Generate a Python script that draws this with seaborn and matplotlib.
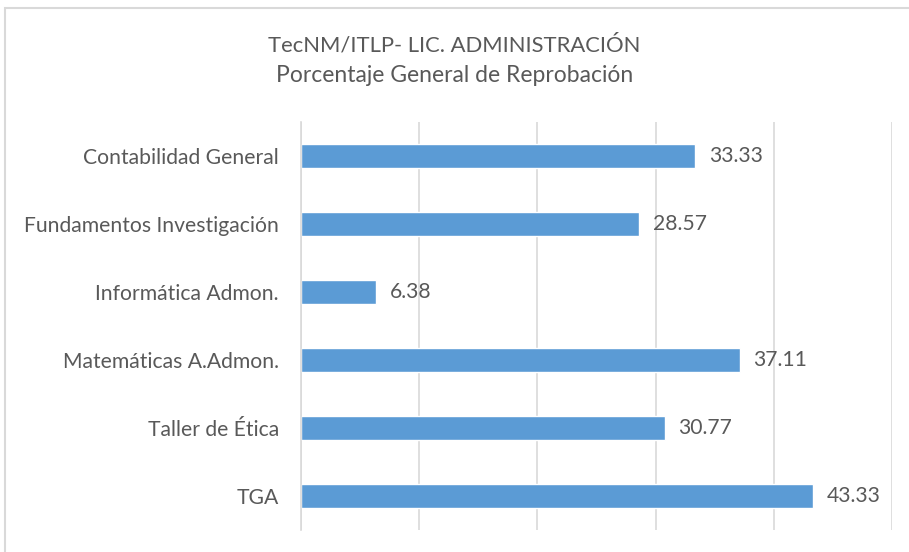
import matplotlib
matplotlib.use("Agg")
import matplotlib.pyplot as plt
import seaborn as sns
import pandas as pd
from matplotlib.patches import Rectangle

materias = ["Contabilidad General", "Fundamentos Investigación", "Informática Admon.",
            "Matemáticas A.Admon.", "Taller de Ética", "TGA"]
porcentajes = [33.33, 28.57, 6.38, 37.11, 30.77, 43.33]

df = pd.DataFrame({"materia": materias, "pct": porcentajes})

sns.set_style("white")
plt.rcParams["font.family"] = ["Lato", "DejaVu Sans"]

gris = "#595959"
azul = "#5B9BD5"

fig = plt.figure(figsize=(9.09, 5.52), dpi=100)
ax = fig.add_axes([301 / 909, 1 - 530 / 552, (892 - 301) / 909, (530 - 122) / 552])

sns.barplot(data=df, y="materia", x="pct", orient="h", color=azul,
            width=0.35, saturation=1, ax=ax)

ax.set_xlim(0, 50)
ax.set_xticks(range(0, 51, 10))
ax.set_xticklabels([])
ax.grid(axis="x", color="#D9D9D9", linewidth=1.2)
ax.set_axisbelow(True)
for s in ["top", "right", "bottom"]:
    ax.spines[s].set_visible(False)
ax.spines["left"].set_color("#D9D9D9")
ax.spines["left"].set_linewidth(1.2)
ax.tick_params(axis="both", length=0)
ax.tick_params(axis="y", pad=16, labelsize=15.2, labelcolor=gris)
ax.set_xlabel("")
ax.set_ylabel("")

for i, v in enumerate(porcentajes):
    ax.annotate(f"{v:.2f}", (v, i), xytext=(10, 0), textcoords="offset points",
                va="center", ha="left", fontsize=15.2, color=gris)

fig.text(0.5, 1 - 45 / 552, "TecNM/ITLP- LIC. ADMINISTRACIÓN", ha="center", va="center",
         fontsize=15.8, color=gris)
fig.text(0.5, 1 - 76 / 552, "Porcentaje General de Reprobación", ha="center", va="center",
         fontsize=16.5, color=gris)

fig.patches.append(Rectangle((5 / 909, -0.05), 1.0, 1 - 8 / 552 + 0.05,
                             transform=fig.transFigure, fill=False,
                             edgecolor="#D9D9D9", linewidth=1.5))

fig.savefig("out.png", dpi=100)
